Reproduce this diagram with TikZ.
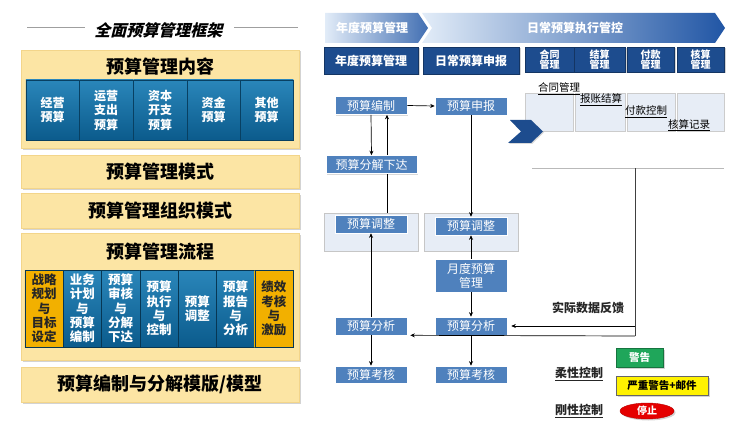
\documentclass[tikz,border=0pt]{standalone}
\usepackage{fontspec}
\setmainfont{Noto Sans CJK SC}
\usetikzlibrary{shadows,shapes.geometric,arrows.meta}
\definecolor{beige}{HTML}{FCE5A4}
\definecolor{beigeline}{HTML}{F3D58A}
\definecolor{cblueT}{HTML}{2A86BA}
\definecolor{cblueB}{HTML}{0B5B8C}
\definecolor{corange}{HTML}{F2B000}
\definecolor{fblue}{HTML}{4F81BD}
\definecolor{navy}{HTML}{1D4C8E}
\definecolor{lightbox}{HTML}{E7EDF6}
\definecolor{hlight}{HTML}{E2ECF8}
\definecolor{hdark}{HTML}{2156A5}
\definecolor{warngreen}{HTML}{1FA65A}
\definecolor{stopred}{HTML}{E50000}
\tikzset{
  shd/.style={drop shadow={shadow xshift=1.5pt,shadow yshift=-1.5pt,opacity=0.35}},
  panel/.style={draw=beigeline, fill=beige, shd, inner sep=0pt, minimum width=278pt,
    font=\fontsize{18}{20}\selectfont\bfseries},
  ptitle/.style={inner sep=0pt, font=\fontsize{18}{20}\selectfont\bfseries},
  cbox/.style={draw=cblueB!70!black, top color=cblueT, bottom color=cblueB, text=white,
    inner sep=0pt, align=center, font=\fontsize{12}{14.5}\selectfont\bfseries,
    minimum height=60pt, minimum width=53.5pt},
  pbox/.style={draw=cblueB!60!black, top color=cblueT, bottom color=cblueB, text=white,
    inner sep=0pt, align=center, font=\fontsize{12.5}{14.3}\selectfont\bfseries,
    minimum height=77pt, minimum width=38.29pt},
  obox/.style={pbox, top color=corange, bottom color=corange, text=black!85},
  flow/.style={draw=white, line width=0.6pt, fill=fblue, text=white, inner sep=0pt,
    minimum width=72pt, minimum height=18pt, align=center,
    font=\fontsize{12}{14}\selectfont,
    drop shadow={shadow xshift=1.2pt,shadow yshift=-1.2pt,opacity=0.3}},
  cont/.style={draw=gray!45, fill=lightbox, minimum width=94pt, minimum height=38pt,
    inner sep=0pt, drop shadow={shadow xshift=1.2pt,shadow yshift=-1.2pt,opacity=0.25}},
  navyb/.style={fill=navy, draw=navy!70!black, text=white, inner sep=0pt, align=center,
    font=\fontsize{12}{14}\selectfont\bfseries, minimum height=27pt, shd},
  snavy/.style={navyb, font=\fontsize{10}{10.5}\selectfont\bfseries, minimum height=25pt},
  lbox/.style={draw=gray!40, fill=lightbox, minimum height=38pt, inner sep=0pt},
  ulab/.style={inner sep=0pt, font=\fontsize{10.5}{12}\selectfont},
  blab/.style={inner sep=0pt, font=\fontsize{12}{14}\selectfont\bfseries, text=black!85},
  arr/.style={-{Stealth[length=4.5pt,width=4pt]}, line width=0.7pt},
  ln/.style={line width=0.7pt},
}
\begin{document}
\begin{tikzpicture}[x=1pt,y=-1pt]
\useasboundingbox (0,0) rectangle (744,425);
% ---------- left panel ----------
\node[inner sep=0pt, xslant=0.25, transform shape, font=\fontsize{16}{18}\selectfont\bfseries] (ttl) at (160,30) {全面预算管理框架};
\coordinate (tl1) at (27,28); \coordinate (tl2) at (85,28);
\coordinate (tr1) at (234,28); \coordinate (tr2) at (298,28);
\draw[gray!75, line width=1pt] (tl1) -- (tl2);
\draw[gray!75, line width=1pt] (tr1) -- (tr2);

\node[panel, minimum height=98pt] (p1) at (160,99) {};
\node[ptitle] (p1t) at (160,67) {预算管理内容};
\node[cbox] (c1) at (52.5,110) {经营\\预算};
\node[cbox] (c2) at (106,110) {运营\\支出\\预算};
\node[cbox] (c3) at (160,110) {资本\\开支\\预算};
\node[cbox] (c4) at (213.5,110) {资金\\预算};
\node[cbox] (c5) at (266.5,110) {其他\\预算};

\node[panel, minimum height=33pt] (p2) at (160,171.5) {预算管理模式};
\node[panel, minimum height=35pt] (p3) at (160,210.5) {预算管理组织模式};

\node[panel, minimum height=127pt] (p4) at (160,296.5) {};
\node[ptitle] (p4t) at (160,252) {预算管理流程};
\node[obox] (s1) at (44.14,308.5) {战略\\规划\\与\\目标\\设定};
\node[pbox] (s2) at (82.43,308.5) {业务\\计划\\与\\预算\\编制};
\node[pbox] (s3) at (120.71,308.5) {预算\\审核\\与\\分解\\下达};
\node[pbox] (s4) at (159,308.5) {预算\\执行\\与\\控制};
\node[pbox] (s5) at (197.29,308.5) {预算\\调整};
\node[pbox] (s6) at (235.57,308.5) {预算\\报告\\与\\分析};
\node[obox] (s7) at (273.86,308.5) {绩效\\考核\\与\\激励};

\node[panel, minimum height=35pt] (p5) at (160,384.5) {预算编制与分解模版/模型};

% ---------- right header ----------
\shade[left color=hlight, right color=hdark!85!white] (325,13) -- (418,13) -- (428,28) -- (418,43) -- (325,43) -- cycle;
\shade[left color=hlight, right color=hdark] (422,13) -- (715,13) -- (725,28) -- (715,43) -- (422,43) -- (432,28) -- cycle;
\node[inner sep=0pt, text=white, font=\fontsize{12}{14}\selectfont\bfseries] (h1) at (372,28) {年度预算管理};
\node[inner sep=0pt, text=white, font=\fontsize{12}{14}\selectfont\bfseries] (h2) at (575,28) {日常预算执行管控};

\node[navyb, minimum width=94pt] (n1) at (371,60.5) {年度预算管理};
\node[navyb, minimum width=96pt] (n2) at (471,60.5) {日常预算申报};
\node[snavy, minimum width=49pt] (m1) at (549.5,59.5) {合同\\管理};
\node[snavy, minimum width=51pt] (m2) at (599.5,59.5) {结算\\管理};
\node[snavy, minimum width=47pt] (m3) at (650.5,59.5) {付款\\管理};
\node[snavy, minimum width=47pt] (m4) at (700.5,59.5) {核算\\管理};

% ---------- light boxes + chevron ----------
\node[lbox, minimum width=48pt] (l1) at (549,112) {};
\node[lbox, minimum width=50pt] (l2) at (600,112) {};
\node[lbox, minimum width=48pt] (l3) at (651,112) {};
\node[lbox, minimum width=47pt] (l4) at (700.5,112) {};
\node[ulab] (u1) at (559,89) {\underline{合同管理}};
\node[ulab] (u2) at (601,100) {\underline{报账结算}};
\node[ulab] (u3) at (646,112) {\underline{付款控制}};
\node[ulab] (u4) at (689,125) {\underline{核算记录}};
\fill[navy, drop shadow={shadow xshift=1pt,shadow yshift=-1pt,opacity=0.3}] (510,120) -- (531,120) -- (543,131.5) -- (531,143) -- (508,143) -- (521,131.5) -- cycle;

% ---------- flow ----------
\node[cont] (lc) at (371,232) {};
\node[cont] (rc) at (471,232) {};
\node[flow] (bz) at (371,105.5) {预算编制};
\node[flow] (sb) at (471,106) {预算申报};
\node[flow, minimum width=91pt] (fj) at (371.5,164.5) {预算分解下达};
\node[flow] (tz1) at (371,224) {预算调整};
\node[flow] (tz2) at (471,226) {预算调整};
\node[flow, minimum height=33pt] (yd) at (471,275.5) {月度预算\\管理};
\node[flow] (fx1) at (371,326) {预算分析};
\node[flow] (fx2) at (471,326) {预算分析};
\node[flow, minimum height=17pt] (kh1) at (371,374.5) {预算考核};
\node[flow, minimum height=17pt] (kh2) at (471,374.5) {预算考核};

\coordinate (ux) at (387,0);
\draw[arr] (bz.east) -- (sb.west);
\draw[arr] (bz.south) -- (fj.north);
\draw[ln] (lc.north -| ux) -- (fj.south -| ux);
\draw[arr] (fj.north -| ux) -- (bz.south -| ux);
\draw[arr] (sb.south) -- (tz2.north);
\draw[arr] (yd.north) -- (tz2.south);
\draw[arr] (yd.south) -- (fx2.north);
\draw[arr] (fx1.north) -- (tz1.south);
\draw[arr] (fx1.south) -- (kh1.north);
\draw[arr] (fx2.south) -- (kh2.north);

\coordinate (g1) at (532,168); \coordinate (g2) at (724,168);
\coordinate (fb) at (635,168); \coordinate (fb2) at (635,336);
\draw[gray!55, line width=1pt] (g1) -- (g2);
\draw[ln, black!75] (fb) -- (fb2);
\draw[arr, shorten >=4pt] (fb |- fx2.east) -- (fx2.east);
\draw[arr, shorten >=3pt] (fb2) -- (fx1.south east);
\node[blab] (sj) at (588,308) {实际数据反馈};

% ---------- legend ----------
\node[inner sep=0pt, fill=warngreen, draw=warngreen!70!black, text=white, minimum width=47pt, minimum height=19pt, font=\fontsize{10.5}{12}\selectfont\bfseries, shd] (jg) at (639.5,357.5) {警告};
\node[inner sep=0pt, fill=yellow, draw=black!60, text=black, minimum width=92pt, minimum height=19pt, font=\fontsize{10.5}{12}\selectfont\bfseries, shd] (yz) at (662,385.5) {严重警告+邮件};
\node[ellipse, inner sep=0pt, fill=stopred, draw=stopred!80!black, text=white, minimum width=54pt, minimum height=16pt, font=\fontsize{10}{12}\selectfont\bfseries, shd] (tz) at (647,411) {停止};
\node[blab] (rx) at (579,374) {\underline{柔性控制}};
\node[blab] (gx) at (579,411) {\underline{刚性控制}};
\end{tikzpicture}
\end{document}
